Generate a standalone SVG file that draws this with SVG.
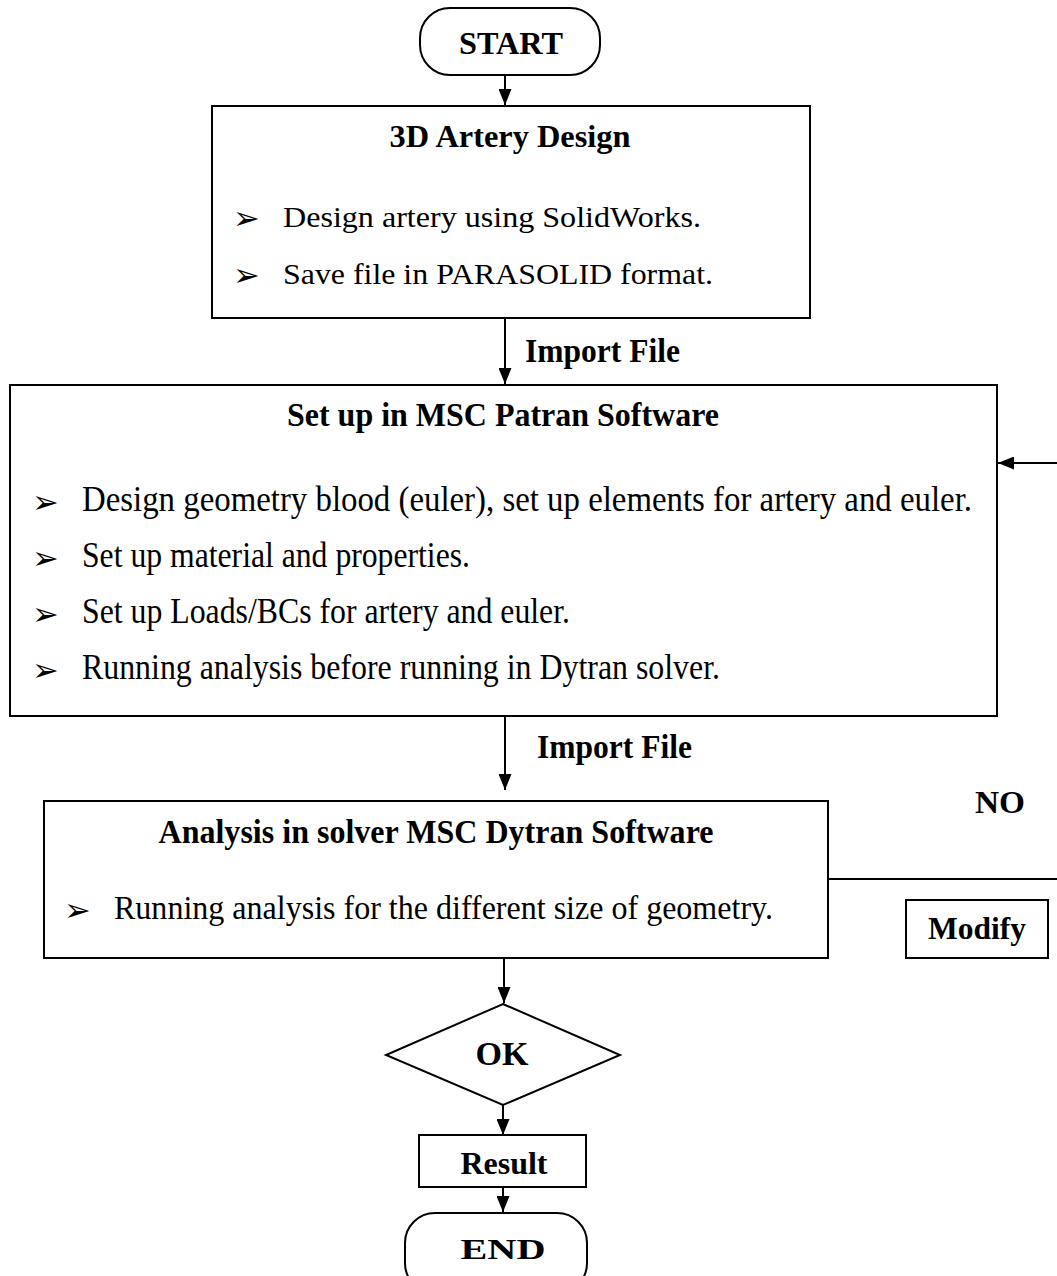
<svg xmlns="http://www.w3.org/2000/svg" width="1057" height="1276" viewBox="0 0 1057 1276" font-family="Liberation Serif, serif">
<defs>
<style>
.box{fill:#fff;stroke:#000;stroke-width:2}
.ln{fill:none;stroke:#000;stroke-width:2}
.t{font-family:'Liberation Serif',serif;font-size:30px;fill:#000}
.k{font-size:31px}
.c{font-size:35px}
.d{font-size:33px}
.b{font-weight:bold}
.m{text-anchor:middle}
.bul{font-family:'DejaVu Sans',sans-serif;font-size:32px;fill:#000}
</style>
<marker id="ah" markerWidth="16" markerHeight="13" viewBox="0 0 16 13" refX="16" refY="6.5" orient="auto" markerUnits="userSpaceOnUse">
<path d="M0,0 L16,6.5 L0,13 Z" fill="#000"/>
</marker>
</defs>
<rect width="1057" height="1276" fill="#fff"/>

<g id="connectors">
<line class="ln" x1="505" y1="75" x2="505" y2="105" marker-end="url(#ah)"/>
<line class="ln" x1="505" y1="318" x2="505" y2="384" marker-end="url(#ah)"/>
<line class="ln" x1="505" y1="716" x2="505" y2="790" marker-end="url(#ah)"/>
<line class="ln" x1="828" y1="879" x2="1057" y2="879"/>
<line class="ln" x1="1057" y1="463" x2="998" y2="463" marker-end="url(#ah)"/>
<line class="ln" x1="504" y1="958" x2="504" y2="1003" marker-end="url(#ah)"/>
<line class="ln" x1="503" y1="1105" x2="503" y2="1135" marker-end="url(#ah)"/>
<line class="ln" x1="503" y1="1187" x2="503" y2="1212" marker-end="url(#ah)"/>
<text class="t d b" x="525" y="362" textLength="155" lengthAdjust="spacingAndGlyphs">Import File</text>
<text class="t d b" x="537" y="758" textLength="155" lengthAdjust="spacingAndGlyphs">Import File</text>
<text class="t k b" x="975" y="813" textLength="50" lengthAdjust="spacingAndGlyphs">NO</text>
</g>

<g id="start">
<rect class="box" x="420" y="8" width="180" height="67" rx="30" ry="30"/>
<text class="t k b m" x="511" y="54" textLength="104" lengthAdjust="spacingAndGlyphs">START</text>
</g>

<g id="artery-design">
<rect class="box" x="212" y="106" width="598" height="212"/>
<text class="t k b m" x="510" y="147" textLength="241" lengthAdjust="spacingAndGlyphs">3D Artery Design</text>
<text class="bul" x="233" y="229">➢</text>
<text class="t" x="283" y="227" font-size="31" textLength="418" lengthAdjust="spacingAndGlyphs">Design artery using SolidWorks.</text>
<text class="bul" x="233" y="286">➢</text>
<text class="t" x="283" y="284" font-size="31" textLength="430" lengthAdjust="spacingAndGlyphs">Save file in PARASOLID format.</text>
</g>

<g id="patran">
<rect class="box" x="10" y="385" width="987" height="331"/>
<text class="t d b m" x="503" y="426" textLength="432" lengthAdjust="spacingAndGlyphs">Set up in MSC Patran Software</text>
<text class="bul" x="32" y="513">➢</text>
<text class="t c" x="82" y="511" textLength="890" lengthAdjust="spacingAndGlyphs">Design geometry blood (euler), set up elements for artery and euler.</text>
<text class="bul" x="32" y="569">➢</text>
<text class="t c" x="82" y="567" textLength="388" lengthAdjust="spacingAndGlyphs">Set up material and properties.</text>
<text class="bul" x="32" y="625">➢</text>
<text class="t c" x="82" y="623" textLength="488" lengthAdjust="spacingAndGlyphs">Set up Loads/BCs for artery and euler.</text>
<text class="bul" x="32" y="681">➢</text>
<text class="t c" x="82" y="679" textLength="638" lengthAdjust="spacingAndGlyphs">Running analysis before running in Dytran solver.</text>
</g>

<g id="dytran">
<rect class="box" x="44" y="801" width="784" height="157"/>
<text class="t d b m" x="436" y="843" textLength="555" lengthAdjust="spacingAndGlyphs">Analysis in solver MSC Dytran Software</text>
<text class="bul" x="64" y="921">➢</text>
<text class="t d" x="114" y="919" textLength="659" lengthAdjust="spacingAndGlyphs">Running analysis for the different size of geometry.</text>
</g>

<g id="modify">
<rect class="box" x="906" y="900" width="142" height="58"/>
<text class="t k b m" x="977" y="939" textLength="98" lengthAdjust="spacingAndGlyphs">Modify</text>
</g>

<g id="ok">
<polygon class="box" points="503,1004 620,1055 503,1105 386,1055"/>
<text class="t d b m" x="502" y="1065" textLength="53" lengthAdjust="spacingAndGlyphs">OK</text>
</g>

<g id="result">
<rect class="box" x="419" y="1135" width="167" height="52"/>
<text class="t k b m" x="504" y="1174" textLength="87" lengthAdjust="spacingAndGlyphs">Result</text>
</g>

<g id="end">
<rect class="box" x="405" y="1213" width="182" height="80" rx="30" ry="30"/>
<text class="t b m" x="503" y="1259" font-size="35" textLength="85" lengthAdjust="spacingAndGlyphs">END</text>
</g>
</svg>
